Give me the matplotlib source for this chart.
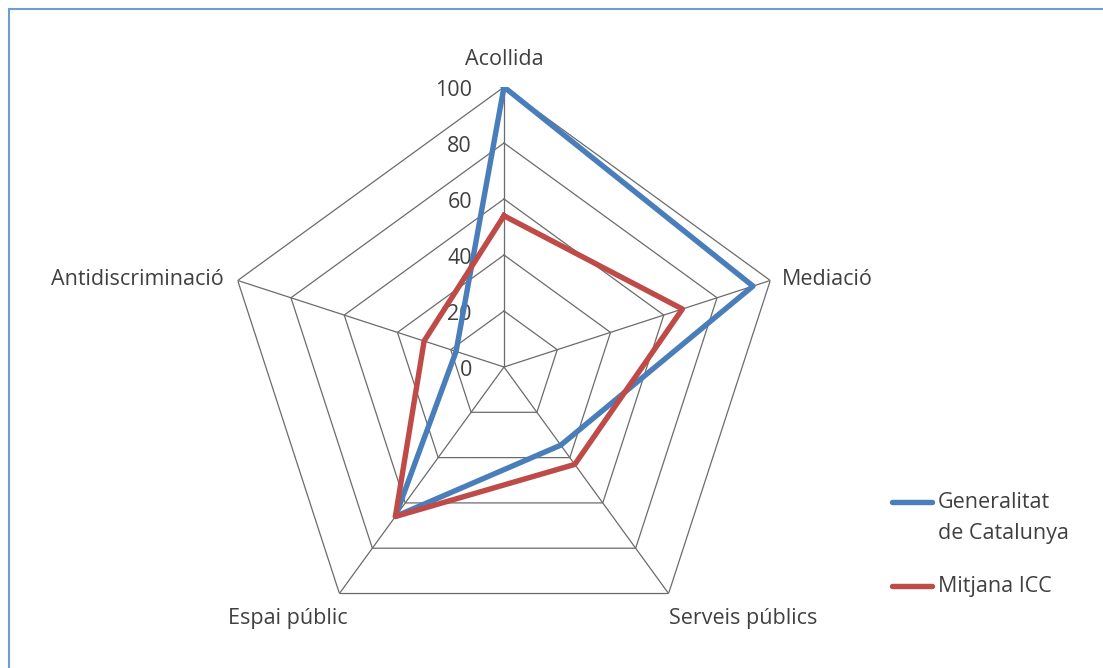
import numpy as np
import matplotlib.pyplot as plt
from matplotlib.lines import Line2D

categories = ['Acollida', 'Mediació', 'Serveis públics', 'Espai públic', 'Antidiscriminació']
generalitat = [100, 93.5, 34.5, 66, 18]
mitjana_icc = [54, 67, 43, 66, 30]
ring_ticks = [0, 20, 40, 60, 80, 100]
series_names = ['Generalitat\nde Catalunya', 'Mitjana ICC']
colors = ['#4A7EBB', '#BE4B48']

plt.rcParams['font.family'] = ['Open Sans', 'DejaVu Sans']
text_color = '#404040'
grid_color = '#6b6b6b'
fs = 15.5

W, H = 1103, 668
fig = plt.figure(figsize=(W / 100, H / 100), dpi=100)

# chart centre and radius in pixels
cx, cy, R = 504, 367, 280
ax = fig.add_axes([(cx - R) / W, (H - cy - R) / H, 2 * R / W, 2 * R / H],
                  projection='polar')
ax.set_theta_zero_location('N')
ax.set_theta_direction(-1)
ax.set_ylim(0, 100)
ax.axis('off')

angles = np.arange(len(categories)) * 2 * np.pi / len(categories)
closed = np.append(angles, angles[0])

# pentagon rings and spokes
for t in ring_ticks[1:]:
    ax.plot(closed, [t] * len(closed), color=grid_color, lw=0.9, zorder=1)
for a in angles:
    ax.plot([a, a], [0, 100], color=grid_color, lw=0.9, zorder=1)

# series
for vals, c in zip([generalitat, mitjana_icc], colors):
    ax.plot(closed, vals + vals[:1], color=c, lw=3.9, zorder=3)

# radial tick labels
for t in ring_ticks:
    ax.annotate(str(t), xy=(0, t), xytext=(-32, -3), textcoords='offset pixels',
                ha='right', va='center', fontsize=fs, color=text_color, zorder=2)

# category labels
label_style = [
    ((0, 17), 'center', 'bottom'),
    ((12, 1), 'left', 'center'),
    ((0, -14), 'left', 'top'),
    ((8, -14), 'right', 'top'),
    ((-14, 1), 'right', 'center'),
]
for a, name, (off, ha, va) in zip(angles, categories, label_style):
    ax.annotate(name, xy=(a, 100), xytext=off, textcoords='offset pixels',
                ha=ha, va=va, fontsize=fs, color=text_color)

# legend
leg_y = [502, 586]
for name, c, y in zip(series_names, colors, leg_y):
    fig.add_artist(Line2D([892 / W, 932 / W], [(H - y) / H] * 2, color=c,
                          lw=3.9, solid_capstyle='round'))
    fig.text(938 / W, (H - y + 10) / H, name, ha='left', va='top',
             fontsize=fs, color=text_color, linespacing=1.6)

# frame lines at top and left
border = '#6A9FCF'
fig.add_artist(Line2D([9 / W, 1], [(H - 9) / H] * 2, color=border, lw=1.5))
fig.add_artist(Line2D([9 / W, 9 / W], [0, (H - 9) / H], color=border, lw=1.5))

fig.savefig('out.png', dpi=100)
